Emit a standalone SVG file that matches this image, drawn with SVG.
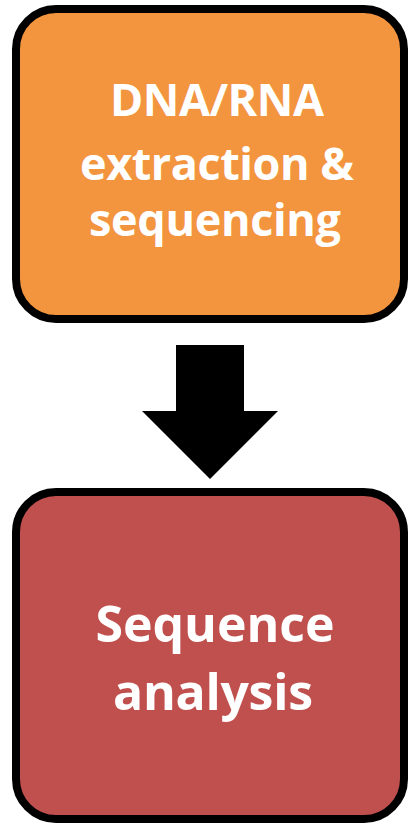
<svg xmlns="http://www.w3.org/2000/svg" width="410" height="825" viewBox="0 0 410 825">
  <style>
    .box { stroke: #000000; stroke-width: 8; }
    .label { font-family: "Open Sans", "Liberation Sans", sans-serif; font-weight: bold; fill: #ffffff; text-anchor: middle; }
  </style>
  <rect width="410" height="825" fill="#ffffff"/>

  <!-- Step 1: wet-lab -->
  <g id="extraction">
    <rect class="box" x="16" y="9" width="388" height="310" rx="40" ry="40" fill="#F3943F"/>
    <text class="label" font-size="45" x="217" y="116" textLength="214">DNA/RNA</text>
    <text class="label" font-size="45" x="217" y="180" textLength="274">extraction &amp;</text>
    <text class="label" font-size="45" x="215" y="236" textLength="252">sequencing</text>
  </g>

  <!-- Step 2: computational -->
  <g id="analysis">
    <rect class="box" x="16" y="492" width="388" height="327" rx="40" ry="40" fill="#C0504D"/>
    <text class="label" font-size="50" x="215" y="642" textLength="239">Sequence</text>
    <text class="label" font-size="50" x="213" y="710" textLength="200">analysis</text>
  </g>

  <!-- Block arrow between the steps -->
  <g id="connectors">
    <polygon points="176,345 244,345 244,411 278,411 210,479 142,411 176,411" fill="#000000"/>
  </g>
</svg>
